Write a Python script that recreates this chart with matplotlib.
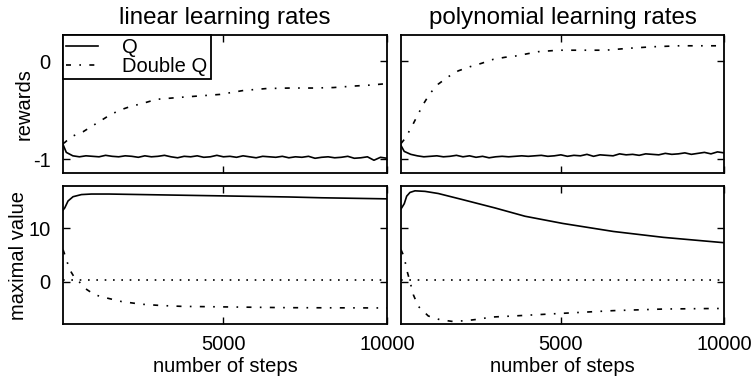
import numpy as np
import matplotlib
matplotlib.use('Agg')
import matplotlib.pyplot as plt

plt.rcParams['font.family'] = ['Liberation Sans', 'DejaVu Sans']
plt.rcParams['font.size'] = 14.5
plt.rcParams['axes.unicode_minus'] = False

# number of steps for the noisy reward curves of Q
steps_q = [100, 200] + list(range(400, 10001, 200))

# linear learning rates: rewards
lin_reward_q = [-0.85, -0.93, -0.965, -0.975, -0.965, -0.97, -0.975, -0.96, -0.97, -0.975,
                -0.965, -0.97, -0.98, -0.965, -0.975, -0.97, -0.96, -0.975, -0.985, -0.97,
                -0.975, -0.965, -0.98, -0.975, -0.96, -0.975, -0.97, -0.98, -0.965, -0.975,
                -0.985, -0.97, -0.975, -0.98, -0.97, -0.985, -0.975, -0.98, -0.97, -0.99,
                -0.98, -0.975, -0.985, -0.98, -0.97, -0.99, -0.985, -0.975, -1.01, -0.98,
                -0.99]
lin_reward_dq_x = [100, 150, 355, 712, 1121, 1529, 1835, 2141, 2549, 2958, 3672, 4285,
                   4897, 5611, 6326, 7040, 7754, 8367, 8979, 9489, 10000]
lin_reward_dq = [-0.84, -0.83, -0.77, -0.72, -0.635, -0.55, -0.50, -0.465, -0.43, -0.39,
                 -0.37, -0.355, -0.34, -0.30, -0.28, -0.275, -0.275, -0.27, -0.255, -0.245,
                 -0.23]

# polynomial learning rates: rewards
poly_reward_q = [-0.86, -0.92, -0.95, -0.965, -0.975, -0.97, -0.965, -0.975, -0.97, -0.96,
                 -0.975, -0.965, -0.98, -0.97, -0.985, -0.975, -0.97, -0.975, -0.97, -0.965,
                 -0.97, -0.965, -0.96, -0.97, -0.965, -0.955, -0.97, -0.96, -0.965, -0.95,
                 -0.97, -0.955, -0.96, -0.965, -0.945, -0.955, -0.95, -0.96, -0.945, -0.95,
                 -0.955, -0.94, -0.95, -0.945, -0.935, -0.95, -0.94, -0.93, -0.945, -0.925,
                 -0.935]
poly_reward_dq_x = [100, 223, 428, 612, 784, 989, 1243, 1550, 1856, 2215, 2573, 2929, 3288,
                    3594, 4309, 4928, 5753, 6371, 7093, 7814, 8639, 9258, 10000]
poly_reward_dq = [-0.84, -0.79, -0.67, -0.55, -0.44, -0.33, -0.235, -0.16, -0.10, -0.058,
                  -0.023, 0.017, 0.038, 0.05, 0.095, 0.11, 0.11, 0.11, 0.13, 0.145, 0.155,
                  0.155, 0.155]

# linear learning rates: maximal value
lin_value_q_x = [100, 152, 253, 406, 663, 969, 1500, 2500, 3500, 5000, 6000, 7000, 8000, 9000, 10000]
lin_value_q = [13.4, 13.8, 15.1, 15.9, 16.3, 16.4, 16.4, 16.3, 16.2, 16.05, 15.95, 15.85, 15.7, 15.6, 15.5]
lin_value_dq_x = [100, 152, 253, 305, 458, 559, 764, 1070, 1478, 1887, 2499, 3111, 3723,
                  5000, 7000, 10000]
lin_value_dq = [6.0, 5.1, 3.2, 2.25, 0.7, 0.25, -1.2, -2.45, -3.1, -3.7, -4.2, -4.45, -4.6,
                -4.7, -4.85, -4.9]

# polynomial learning rates: maximal value
poly_value_q_x = [100, 201, 275, 376, 529, 836, 1243, 1960, 2981, 3900, 5060, 6611, 8143, 10000]
poly_value_q = [13.6, 14.6, 16.0, 16.7, 17.0, 16.9, 16.5, 15.4, 13.8, 12.25, 10.9, 9.4, 8.3, 7.3]
poly_value_dq_x = [100, 201, 275, 376, 477, 631, 937, 1296, 1654, 2062, 2470, 2879, 3542,
                   5060, 6611, 8143, 9673, 10000]
poly_value_dq = [6.0, 4.6, 2.25, 0.05, -2.4, -4.6, -6.4, -7.1, -7.4, -7.3, -7.0, -6.6, -6.4,
                 -5.9, -5.4, -5.1, -5.0, -5.0]

true_value = 0.35

dashdot = (0, (3, 5, 1, 5))
dotted = (0, (1, 4))

fig = plt.figure(figsize=(7.53, 3.79), dpi=100)
ax_tl = fig.add_axes([0.0837, 0.5435, 0.4303, 0.3642])
ax_tr = fig.add_axes([0.5325, 0.5435, 0.4290, 0.3642])
ax_bl = fig.add_axes([0.0837, 0.1451, 0.4303, 0.3641])
ax_br = fig.add_axes([0.5325, 0.1451, 0.4290, 0.3641])

ax_tl.plot(steps_q, lin_reward_q, color='black', lw=1.2, label='Q')
ax_tl.plot(lin_reward_dq_x, lin_reward_dq, color='black', lw=1.2, linestyle=dashdot, label='Double Q')
ax_tr.plot(steps_q, poly_reward_q, color='black', lw=1.2)
ax_tr.plot(poly_reward_dq_x, poly_reward_dq, color='black', lw=1.2, linestyle=dashdot)

ax_bl.plot(lin_value_q_x, lin_value_q, color='black', lw=1.2)
ax_bl.plot(lin_value_dq_x, lin_value_dq, color='black', lw=1.2, linestyle=dashdot)
ax_bl.axhline(true_value, color='black', lw=1.2, linestyle=dotted)
ax_br.plot(poly_value_q_x, poly_value_q, color='black', lw=1.2)
ax_br.plot(poly_value_dq_x, poly_value_dq, color='black', lw=1.2, linestyle=dashdot)
ax_br.axhline(true_value, color='black', lw=1.2, linestyle=dotted)

for ax in [ax_tl, ax_tr, ax_bl, ax_br]:
    ax.set_xlim(100, 10000)
    ax.set_xticks([5000, 10000])
    ax.tick_params(direction='in', top=True, right=True, length=5, width=1)
    ax.tick_params(axis='x', pad=8)
    ax.tick_params(axis='y', pad=9)
    for s in ax.spines.values():
        s.set_linewidth(1.3)

for ax in [ax_tl, ax_tr]:
    ax.set_ylim(-1.14, 0.265)
    ax.set_yticks([-1, 0])
    ax.tick_params(labelbottom=False)
for ax in [ax_bl, ax_br]:
    ax.set_ylim(-7.9, 17.9)
    ax.set_yticks([0, 10])
    ax.set_xlabel('number of steps', labelpad=2)
ax_tr.tick_params(labelleft=False)
ax_br.tick_params(labelleft=False)

ax_tl.set_title('linear learning rates', pad=8)
ax_tr.set_title('polynomial learning rates', pad=8)
ax_tl.set_ylabel('rewards')
ax_bl.set_ylabel('maximal value')
ax_tl.yaxis.set_label_coords(-0.092, 0.5)
ax_bl.yaxis.set_label_coords(-0.108, 0.5)

leg = ax_tl.legend(loc='upper left', borderaxespad=0, fancybox=False, edgecolor='black',
                   framealpha=1, handlelength=1.6, handletextpad=1.2, labelspacing=0.0,
                   borderpad=0.15)
leg.get_frame().set_linewidth(1.3)

fig.savefig('out.png', dpi=100)
